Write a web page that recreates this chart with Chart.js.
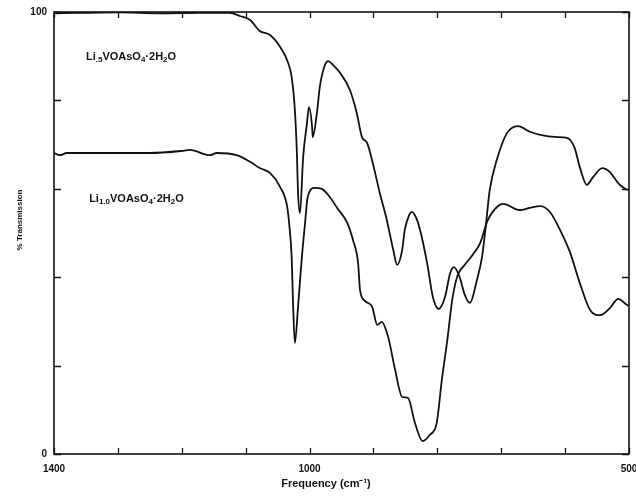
<!DOCTYPE html>
<html>
<head>
<meta charset="utf-8">
<script src="https://cdn.jsdelivr.net/npm/chart.js@4.4.0/dist/chart.umd.min.js"></script>
<style>
  html, body { margin: 0; padding: 0; background: #fff; }
</style>
</head>
<body>
<canvas id="irChart" width="636" height="496"></canvas>
<script>
// Li0.5VOAsO4.2H2O spectrum (upper trace)
const freqHalf = [1400,1359,1297,1234,1172,1125,1109,1093,1078,1062,1046,1034,1028,1023,1020,1018,1015,1010,1004,1001,996,995,988,984,976,971,963,952,937,926,918,910,901,890,879,874,869,863,855,851,844,840,833,827,816,807,798,788,780,774,765,757,749,738,730,724,718,707,691,674,655,639,613,597,585,577,566,556,542,530,517,506,500];
const transHalf = [99.7,99.8,99.9,99.7,99.8,99.8,99.1,98.2,95.7,94.8,92.1,88.7,85.3,77.8,68.8,59.0,54.5,67.2,74.9,78.5,74.0,71.7,77.8,83.0,88.0,88.9,88.0,86.2,82.4,77.1,71.7,70.4,65.8,59.0,52.9,49.5,46.2,42.8,46.2,50.7,54.1,54.8,53.4,50.7,43.2,35.5,32.8,35.5,40.9,42.3,40.0,36.0,34.2,39.4,44.6,51.8,59.7,66.5,72.6,74.2,72.9,72.2,71.7,71.5,69.2,64.9,60.9,62.7,64.7,63.8,61.3,60.0,59.7];

// Li1.0VOAsO4.2H2O spectrum (lower trace)
const freqOne = [1400,1391,1380,1328,1250,1198,1187,1156,1145,1114,1093,1078,1062,1046,1035,1031,1028,1026,1023,1018,1012,1007,1003,992,981,968,957,941,932,924,921,913,902,894,887,877,866,855,846,835,823,812,801,793,785,776,768,757,744,733,721,705,697,671,655,639,624,608,592,577,561,545,530,517,503,500];
const transOne = [68.1,67.6,68.1,68.1,68.1,68.6,68.8,67.6,68.1,67.6,66.1,64.7,63.6,60.4,55.9,50.7,44.6,34.8,25.1,33.3,44.6,52.3,58.1,60.2,60.0,58.1,55.7,52.3,48.4,43.2,37.1,34.6,33.3,29.2,29.9,26.5,19.0,12.9,12.7,7.0,2.9,4.3,7.0,16.7,25.1,35.5,40.5,42.8,45.2,47.7,52.9,56.1,56.6,55.2,55.7,56.1,54.8,50.7,45.5,38.7,32.6,31.4,33.0,35.1,33.7,33.5];

// axis labels that are printed
const xLabelled = [1400, 1000, 500];
const yLabelled = [0, 100];

// trace names, [text, isSubscript]
const nameHalf = [['Li', 0], ['.5', 1], ['VOAsO', 0], ['4', 1], ['\u00b72H', 0], ['2', 1], ['O', 0]];
const nameOne = [['Li', 0], ['1.0', 1], ['VOAsO', 0], ['4', 1], ['\u00b72H', 0], ['2', 1], ['O', 0]];
const namePos = [[1350, 89.8], [1345, 57.7]];

function toPoints(xs, ys) {
  return xs.map((x, i) => ({ x: x, y: ys[i] }));
}

const ink = '#111';
const fontFam = '"Liberation Sans", Arial, sans-serif';

function drawChem(ctx, parts, x, y) {
  parts.forEach(([txt, sub]) => {
    ctx.font = sub ? 'bold 8px ' + fontFam : 'bold 11px ' + fontFam;
    ctx.fillText(txt, x, sub ? y + 3 : y);
    x += ctx.measureText(txt).width;
  });
}

const frameAndTicks = {
  id: 'frameAndTicks',
  afterDraw(chart) {
    const ctx = chart.ctx;
    const a = chart.chartArea;
    const xs = chart.scales.x, ys = chart.scales.y;
    ctx.save();
    ctx.strokeStyle = ink;
    ctx.fillStyle = ink;
    ctx.lineWidth = 1.6;
    ctx.strokeRect(a.left, a.top, a.right - a.left, a.bottom - a.top);

    ctx.lineWidth = 1.3;
    ctx.beginPath();
    xs.ticks.forEach(t => {
      const px = Math.round(xs.getPixelForValue(t.value)) + 0.5;
      ctx.moveTo(px, a.bottom); ctx.lineTo(px, a.bottom - 6);
      ctx.moveTo(px, a.top); ctx.lineTo(px, a.top + 6);
    });
    ys.ticks.forEach(t => {
      const py = Math.round(ys.getPixelForValue(t.value)) + 0.5;
      ctx.moveTo(a.left, py); ctx.lineTo(a.left + 7, py);
      ctx.moveTo(a.right, py); ctx.lineTo(a.right - 7, py);
    });
    ctx.stroke();

    // trace names
    ctx.textBaseline = 'middle';
    ctx.textAlign = 'left';
    drawChem(ctx, nameHalf, xs.getPixelForValue(namePos[0][0]), ys.getPixelForValue(namePos[0][1]));
    drawChem(ctx, nameOne, xs.getPixelForValue(namePos[1][0]), ys.getPixelForValue(namePos[1][1]));

    // axis titles
    ctx.textAlign = 'center';
    ctx.font = 'bold 11px ' + fontFam;
    ctx.fillText('Frequency (cm\u207b\u00b9)', 326, 484);
    ctx.translate(20, 220);
    ctx.rotate(-Math.PI / 2);
    ctx.font = 'bold 8px ' + fontFam;
    ctx.fillText('% Transmission', 0, 0);
    ctx.restore();
  }
};

const ctx = document.getElementById('irChart').getContext('2d');
const irChart = new Chart(ctx, {
  type: 'line',
  data: {
    datasets: [
      { label: 'Li0.5', data: toPoints(freqHalf, transHalf) },
      { label: 'Li1.0', data: toPoints(freqOne, transOne) }
    ]
  },
  options: {
    responsive: false,
    animation: false,
    layout: { padding: { top: 12, right: 7, left: 0, bottom: 0 } },
    elements: {
      point: { radius: 0 },
      line: { borderColor: ink, borderWidth: 1.8, cubicInterpolationMode: 'monotone', fill: false }
    },
    plugins: { legend: { display: false }, tooltip: { enabled: false } },
    scales: {
      x: {
        type: 'linear', reverse: true, min: 500, max: 1400,
        grid: { display: false, drawTicks: false },
        border: { display: false },
        ticks: {
          stepSize: 100, autoSkip: false, maxRotation: 0, padding: 9,
          color: ink, font: { family: fontFam, size: 10, weight: 'bold' },
          callback: v => xLabelled.includes(v) ? String(v) : ''
        },
        afterFit: s => { s.height = 42; s.paddingLeft = 0; s.paddingRight = 0; }
      },
      y: {
        min: 0, max: 100,
        grid: { display: false, drawTicks: false },
        border: { display: false },
        ticks: {
          stepSize: 20, autoSkip: false, padding: 7,
          color: ink, font: { family: fontFam, size: 10, weight: 'bold' },
          callback: v => yLabelled.includes(v) ? String(v) : ''
        },
        afterFit: s => { s.width = 54; s.paddingTop = 0; s.paddingBottom = 0; }
      }
    }
  },
  plugins: [frameAndTicks]
});
</script>
</body>
</html>
